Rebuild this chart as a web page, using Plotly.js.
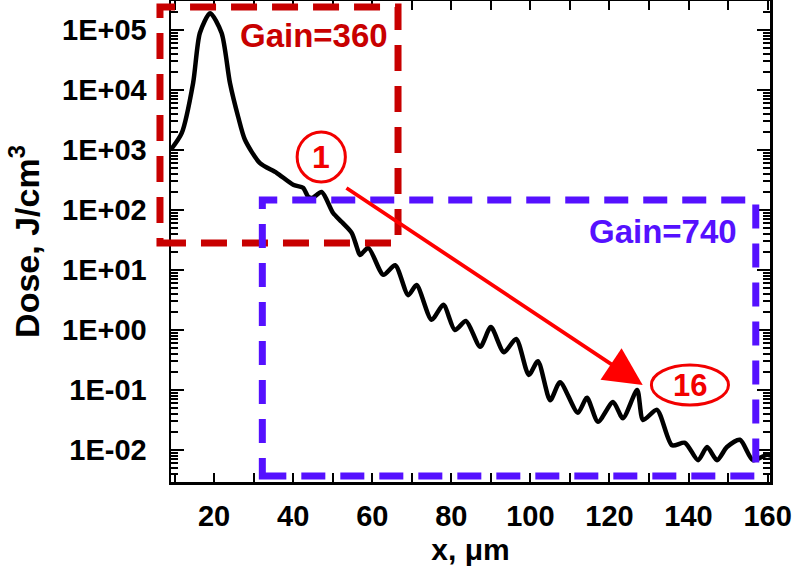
<!DOCTYPE html>
<html><head><meta charset="utf-8">
<script src="https://cdn.plot.ly/plotly-3.0.1.min.js"></script>
<style>html,body{margin:0;padding:0;background:#fff}#chart{width:792px;height:567px}</style>
</head><body><div id="chart"></div>
<script>
// depth (um)
const xPos = [9.0, 11.8, 14.7, 16.4, 19.0, 21.9, 24.0, 26.1, 27.8, 31.6, 35.8, 40.0, 42.5, 43.8, 44.8, 47.2,
  50.1, 52.3, 54.8, 56.1, 56.9, 59.0, 62.8, 65.8, 69.1, 71.2, 75.0, 78.0, 80.9, 83.7, 87.3, 90.0,
  93.3, 96.4, 99.6, 101.9, 105.0, 107.5, 112.0, 114.3, 117.1, 120.9, 123.4, 127.0, 128.5, 132.0,
  135.8, 139.1, 142.4, 144.7, 147.2, 149.7, 153.0, 156.3, 159.8, 161.0];
// dose (J/cm3)
const dose = [1000, 1905, 13180, 89125, 190550, 89125, 13180, 3548, 1479, 602.6, 416.9, 263.0, 234.4, 166.0, 158.5, 199.5,
  89.1, 63.1, 41.7, 24.0, 17.8, 23.4, 8.32, 12.0, 3.80, 5.62, 1.48, 2.63, 1.0, 1.41, 0.525, 1.12,
  0.427, 0.708, 0.178, 0.302, 0.0676, 0.135, 0.0417, 0.0741, 0.0295, 0.0631, 0.0339, 0.100, 0.0316, 0.0468,
  0.0120, 0.0132, 0.00676, 0.0112, 0.00676, 0.0112, 0.0148, 0.00676, 0.00832, 0.00794];
const xTickVals = [20, 40, 60, 80, 100, 120, 140, 160];
const xTickText = ['20', '40', '60', '80', '100', '120', '140', '160'];
const yTickVals = [1e-2, 1e-1, 1e0, 1e1, 1e2, 1e3, 1e4, 1e5];
const yTickText = ['1E-02', '1E-01', '1E+00', '1E+01', '1E+02', '1E+03', '1E+04', '1E+05'];
const gainLabels = ['Gain=360', 'Gain=740'];
const markLabels = ['1', '16'];

const DARKRED = '#c80000', RED = '#f20000', BLUE = '#5511ff';
const FAM = 'Liberation Sans, Arial, sans-serif';

const trace = {
  x: xPos, y: dose, type: 'scatter', mode: 'lines',
  line: {color: '#000', width: 4.5, shape: 'spline', smoothing: 0.7},
  hoverinfo: 'skip', showlegend: false
};

const axCommon = {
  showgrid: false, zeroline: false, showline: true, linecolor: '#000', linewidth: 2.5,
  mirror: 'allticks', ticks: 'inside', tickcolor: '#000', tickwidth: 2, layer: 'above traces',
  tickfont: {family: FAM, size: 29, color: '#000', weight: 'bold'}
};

const layout = {
  width: 792, height: 567,
  margin: {l: 171, r: 22, t: 1, b: 85},
  paper_bgcolor: '#fff', plot_bgcolor: 'rgba(0,0,0,0)',
  showlegend: false,
  xaxis: Object.assign({}, axCommon, {
    range: [9.1, 160.6], tickmode: 'array', tickvals: xTickVals, ticktext: xTickText,
    ticklen: 9, ticklabelstandoff: 7,
    minor: {dtick: 10, tick0: 0, ticks: 'inside', ticklen: 9, tickwidth: 2, tickcolor: '#000', showgrid: false},
    title: {text: 'x, \u03bcm', font: {family: FAM, size: 30, color: '#000', weight: 'bold'}, standoff: 8}
  }),
  yaxis: Object.assign({}, axCommon, {
    type: 'log', range: [-2.533, 5.483], tickmode: 'array', tickvals: yTickVals, ticktext: yTickText,
    ticklen: 13, ticklabelstandoff: 16,
    minor: {dtick: 'D1', ticks: 'inside', ticklen: 7, tickwidth: 2, tickcolor: '#000', showgrid: false},
    title: {text: 'Dose, J/cm<sup>3</sup>', font: {family: FAM, size: 34, color: '#000', weight: 'bold'}, standoff: 12}
  }),
  shapes: [
    {type: 'rect', xref: 'paper', yref: 'y', x0: -0.0184, x1: 0.379, y0: 28.2, y1: 241500,
     line: {color: DARKRED, width: 7, dash: '26px,15px'}, fillcolor: 'rgba(0,0,0,0)', layer: 'above'},
    {type: 'rect', xref: 'x', yref: 'y', x0: 32.2, x1: 157.0, y0: 0.00369, y1: 147,
     line: {color: BLUE, width: 7, dash: '24px,15px'}, fillcolor: 'rgba(0,0,0,0)', layer: 'above'},
    {type: 'circle', xref: 'x', yref: 'y', x0: 41.0, x1: 53.2, y0: 293, y1: 1995,
     line: {color: RED, width: 3}, fillcolor: 'rgba(0,0,0,0)'},
    {type: 'circle', xref: 'x', yref: 'y', x0: 130.6, x1: 150.1, y0: 0.0562, y1: 0.261,
     line: {color: RED, width: 3}, fillcolor: 'rgba(0,0,0,0)'}
  ],
  annotations: [
    {xref: 'x', yref: 'y', x: 45.3, y: 4.9, text: gainLabels[0], showarrow: false,
     font: {family: FAM, size: 33, color: DARKRED, weight: 'bold'}},
    {xref: 'x', yref: 'y', x: 133.5, y: 1.65, text: gainLabels[1], showarrow: false,
     font: {family: FAM, size: 33, color: BLUE, weight: 'bold'}},
    {xref: 'x', yref: 'y', x: 47.1, y: 2.883, text: markLabels[0], showarrow: false,
     font: {family: FAM, size: 32, color: RED, weight: 'bold'}},
    {xref: 'x', yref: 'y', x: 140.4, y: -0.917, text: markLabels[1], showarrow: false,
     font: {family: FAM, size: 31, color: RED, weight: 'bold'}},
    {xref: 'x', yref: 'y', x: 128.4, y: -0.917, axref: 'x', ayref: 'y', ax: 53.1, ay: 2.383,
     text: '', showarrow: true, arrowhead: 2, arrowsize: 2.0, arrowwidth: 3.8, arrowcolor: '#ff0000', standoff: 0}
  ]
};

Plotly.newPlot('chart', [trace], layout, {staticPlot: true, displayModeBar: false});
</script>
</body></html>
